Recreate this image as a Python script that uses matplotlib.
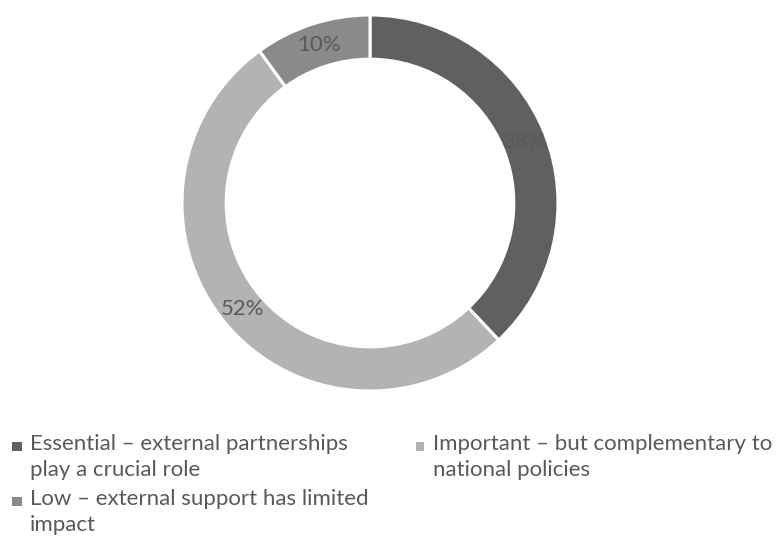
import matplotlib
matplotlib.use("Agg")
import matplotlib.pyplot as plt
from matplotlib.patches import Rectangle

plt.rcParams["font.family"] = ["Lato", "DejaVu Sans"]

# --- data ---
categories = [
    "Essential – external partnerships\nplay a crucial role",
    "Important – but complementary to\nnational policies",
    "Low – external support has limited\nimpact",
]
shares = [38, 52, 10]
colors = ["#606060", "#b3b3b3", "#8a8a8a"]
TEXT_COLOR = "#595959"
FONT_SIZE = 16

W, H = 776, 538
fig = plt.figure(figsize=(W / 100, H / 100), dpi=100)

# donut centre and radius in pixels
cx, cy, r = 370, 203, 188
ax = fig.add_axes([(cx - r) / W, (H - cy - r) / H, 2 * r / W, 2 * r / H])

ring = 0.235
ax.pie(
    shares,
    colors=colors,
    startangle=90,
    counterclock=False,
    radius=1.0,
    autopct=lambda p: f"{p:.0f}%",
    pctdistance=1 - ring / 2,
    wedgeprops=dict(width=ring, edgecolor="white", linewidth=2.2),
    textprops=dict(color=TEXT_COLOR, fontsize=FONT_SIZE),
)
ax.set_xlim(-1, 1)
ax.set_ylim(-1, 1)
ax.set_aspect("equal")
ax.axis("off")

# legend laid out by hand: square aligned with the first line of each label
# (marker x, text x, top y) in pixels, reading across rows
slots = [(17, 30, 434), (420, 433, 434), (17, 30, 489)]
sq = 9
for (mx, tx, ty), label, c in zip(slots, categories, colors):
    fig.add_artist(Rectangle(
        ((mx - sq / 2) / W, 1 - (ty + 12 + sq / 2) / H), sq / W, sq / H,
        transform=fig.transFigure, facecolor=c, edgecolor="none",
    ))
    fig.text(tx / W, 1 - ty / H, label, ha="left", va="top",
             color=TEXT_COLOR, fontsize=FONT_SIZE, linespacing=1.4)

fig.savefig("out.png", dpi=100, facecolor="white")
